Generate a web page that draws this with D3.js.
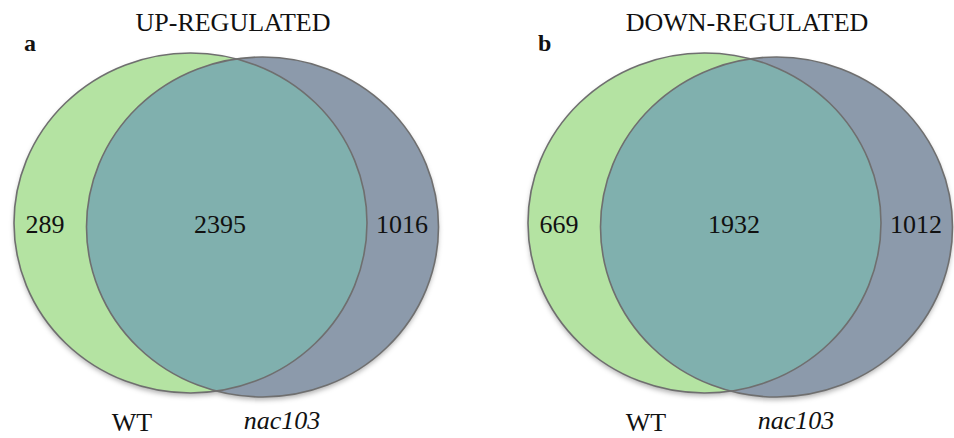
<!DOCTYPE html>
<html>
<head>
<meta charset="utf-8">
<script src="https://cdn.jsdelivr.net/npm/d3@7"></script>
<style>
  html, body { margin: 0; padding: 0; background: #fff; }
  svg { display: block; }
  text { font-family: "Liberation Serif", "Times New Roman", serif; fill: #111; }
</style>
</head>
<body>
<svg id="chart" width="954" height="438"></svg>
<script>
// Panel data: differentially expressed gene counts
const panelLetters = ["a", "b"];
const panelTitles = ["UP-REGULATED", "DOWN-REGULATED"];
const wtOnly = [289, 669];
const shared = [2395, 1932];
const mutantOnly = [1016, 1012];
const setNames = ["WT", "nac103"];

const svg = d3.select("#chart");

const defs = svg.append("defs");
const shadow = defs.append("filter").attr("id", "shadow")
  .attr("x", "-10%").attr("y", "-10%").attr("width", "120%").attr("height", "125%");
shadow.append("feDropShadow")
  .attr("dx", 0).attr("dy", 3).attr("stdDeviation", 2.5)
  .attr("flood-color", "#000").attr("flood-opacity", 0.3);

// one band per panel
const panelX = d3.scaleBand().domain(d3.range(panelLetters.length)).range([0, 1030]);

// ellipse geometry inside a panel
const wtEll = { cx: 190.5, cy: 223, rx: 176.5, ry: 170 };
const mutEll = { cx: 262.5, cy: 227, rx: 176, ry: 170 };

const colWT = "#b4e3a2", colMut = "#8c9aab", colBoth = "#80b0ae", stroke = "#6f6f6f";

const panels = svg.selectAll("g.panel")
  .data(panelLetters.map((d, i) => ({
    letter: d, title: panelTitles[i], a: wtOnly[i], ab: shared[i], b: mutantOnly[i], i
  })))
  .join("g")
  .attr("class", "panel")
  .attr("transform", d => `translate(${panelX(d.i) - (d.i ? 1 : 0)},0)`);

panels.each(function(d) {
  const g = d3.select(this);
  const clipId = "clipMut" + d.i;
  // clip path in the panel's own user space
  defs.append("clipPath").attr("id", clipId)
    .attr("clipPathUnits", "userSpaceOnUse")
    .append("ellipse")
    .attr("cx", mutEll.cx).attr("cy", mutEll.cy)
    .attr("rx", mutEll.rx).attr("ry", mutEll.ry);

  const shapes = g.append("g").attr("filter", "url(#shadow)");
  shapes.append("ellipse")
    .attr("cx", wtEll.cx).attr("cy", wtEll.cy).attr("rx", wtEll.rx).attr("ry", wtEll.ry)
    .attr("fill", colWT);
  shapes.append("ellipse")
    .attr("cx", mutEll.cx).attr("cy", mutEll.cy).attr("rx", mutEll.rx).attr("ry", mutEll.ry)
    .attr("fill", colMut);

  // overlap region
  g.append("ellipse")
    .attr("cx", wtEll.cx).attr("cy", wtEll.cy).attr("rx", wtEll.rx).attr("ry", wtEll.ry)
    .attr("fill", colBoth)
    .attr("clip-path", `url(#${clipId})`);

  // outlines
  g.append("ellipse")
    .attr("cx", wtEll.cx).attr("cy", wtEll.cy).attr("rx", wtEll.rx).attr("ry", wtEll.ry)
    .attr("fill", "none").attr("stroke", stroke).attr("stroke-width", 1.6);
  g.append("ellipse")
    .attr("cx", mutEll.cx).attr("cy", mutEll.cy).attr("rx", mutEll.rx).attr("ry", mutEll.ry)
    .attr("fill", "none").attr("stroke", stroke).attr("stroke-width", 1.6);

  // titles and letters
  g.append("text").attr("x", 233).attr("y", 31).attr("text-anchor", "middle")
    .attr("font-size", 26).text(d.title);
  g.append("text").attr("x", 24).attr("y", 51)
    .attr("font-size", 24).attr("font-weight", "bold").text(d.letter);

  // region counts
  const nums = [[45, d.a], [220, d.ab], [402, d.b]];
  g.selectAll("text.num").data(nums).join("text")
    .attr("class", "num")
    .attr("x", n => n[0]).attr("y", 233)
    .attr("text-anchor", "middle").attr("font-size", 26)
    .text(n => n[1]);

  // set names
  g.append("text").attr("x", 132).attr("y", 431).attr("text-anchor", "middle")
    .attr("font-size", 26).text(setNames[0]);
  g.append("text").attr("x", 282).attr("y", 429).attr("text-anchor", "middle")
    .attr("font-size", 26).attr("font-style", "italic").text(setNames[1]);
});
</script>
</body>
</html>
